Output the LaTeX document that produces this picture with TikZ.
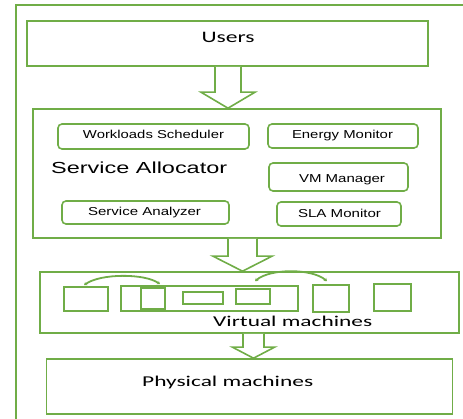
\documentclass[tikz,border=0pt]{standalone}
\usepackage{fontspec}
\usepackage{graphicx}
\usetikzlibrary{calc,arrows.meta}
\newfontfamily\calfont{Carlito}
\newfontfamily\arifont{Liberation Sans}
\definecolor{gr}{HTML}{70AD47}
\newcommand\fitw[2]{\resizebox{#1}{\height}{#2}}
\tikzset{
  box/.style={draw=gr, line width=1.6pt, inner sep=0pt, rectangle},
  rbox/.style={box, rounded corners=4pt},
  vmbox/.style={draw=gr, line width=1.5pt, inner sep=0pt, rectangle},
  txt/.style={inner sep=0pt, text=black},
  blk/.style={draw=gr, line width=1.6pt, fill=white, line join=miter},
  swap/.style={draw=gr, line width=1.8pt, {Stealth[length=3pt,width=4pt]}-{Stealth[length=3pt,width=4pt]}},
}
\newcommand\blockarr[5]{%
  \draw[blk] ($(#1)+(-#3,0)$) -- ($(#2)+(-#3,-#5)$) -- ($(#2)+(-#4,-#5)$) -- (#2)
    -- ($(#2)+(#4,-#5)$) -- ($(#2)+(#3,-#5)$) -- ($(#1)+(#3,0)$);}
\begin{document}
\begin{tikzpicture}[x=1pt,y=-1pt]
\useasboundingbox (0,0) rectangle (463,419);
% outer frame
\draw[draw=gr, line width=1.8pt] (16,419) -- (16,5) -- (463,5);
% main boxes
\node[box, minimum width=401, minimum height=45] (users) at (227.5,43.5) {};
\node[box, minimum width=408, minimum height=129] (alloc) at (237,173.5) {};
\node[box, minimum width=419, minimum height=61] (vm) at (249.5,302.5) {};
\node[box, minimum width=406, minimum height=55] (pm) at (249.5,386.5) {};
% inner boxes
\node[rbox, minimum width=191, minimum height=25] (ws) at (153.5,136.5) {};
\node[rbox, minimum width=150, minimum height=24] (em) at (343,136) {};
\node[rbox, minimum width=139, minimum height=28] (vmm) at (338.5,177) {};
\node[rbox, minimum width=167, minimum height=23] (sa) at (145.5,212.5) {};
\node[rbox, minimum width=124, minimum height=24] (sla) at (339,214) {};
% virtual machine boxes
\node[vmbox, minimum width=44, minimum height=24] (ba) at (86,299) {};
\node[vmbox, minimum width=177, minimum height=25] (bb) at (209.5,298.5) {};
\node[vmbox, minimum width=24, minimum height=21] (bc) at (153,298.5) {};
\node[vmbox, minimum width=40, minimum height=12] (bd) at (203,298) {};
\node[vmbox, minimum width=34, minimum height=15] (be) at (253,296.5) {};
\node[vmbox, minimum width=36, minimum height=27] (bf) at (331,298.5) {};
\node[vmbox, minimum width=37, minimum height=27] (bg) at (392.5,297.5) {};
% texts
\node[txt, anchor=base] (tusers) at (228,43) {\calfont\fontsize{16}{16}\selectfont\fitw{53pt}{Users}};
\node[txt, anchor=base west] (tpm) at (142,386) {\calfont\fontsize{15}{15}\selectfont\fitw{171pt}{Physical machines}};
\node[txt, anchor=base west] (tvm) at (213,327) {\calfont\fontsize{15}{15}\selectfont\fitw{159pt}{Virtual machines}};
\node[txt, anchor=base west] (talloc) at (51,174) {\arifont\fontsize{16}{16}\selectfont\fitw{176pt}{Service Allocator}};
\node[txt, anchor=base] (tws) at (153.5,139) {\arifont\fontsize{11.5}{12}\selectfont\fitw{141pt}{Workloads Scheduler}};
\node[txt, anchor=base] (tem) at (342.5,139) {\arifont\fontsize{11.5}{12}\selectfont\fitw{101pt}{Energy Monitor}};
\node[txt, anchor=base] (tvmm) at (342,183) {\arifont\fontsize{11.5}{12}\selectfont\fitw{86pt}{VM Manager}};
\node[txt, anchor=base] (tsa) at (144.5,216) {\arifont\fontsize{11.5}{12}\selectfont\fitw{113pt}{Service Analyzer}};
\node[txt, anchor=base] (tsla) at (339.5,218) {\arifont\fontsize{11.5}{12}\selectfont\fitw{83pt}{SLA Monitor}};
% block arrows
\coordinate (a1s) at ($(users.south)+(0.5,0)$);
\coordinate (a1e) at (alloc.north -| a1s);
\blockarr{a1s}{a1e}{13}{27}{16}
\coordinate (a2s) at ($(alloc.south)+(5.5,0)$);
\coordinate (a2e) at (vm.north -| a2s);
\blockarr{a2s}{a2e}{14.5}{29.5}{15}
\coordinate (a3s) at ($(vm.south)+(4,0)$);
\coordinate (a3e) at (pm.north -| a3s);
\blockarr{a3s}{a3e}{10.5}{21}{11}
% migration arcs
\draw[swap] ($(ba.north)+(-2,-1)$) .. controls ($(ba.north)+(14,-13)$) and ($(bc.north)+(-8,-14)$) .. ($(bc.north)+(7,-3)$);
\draw[swap] ($(be.north)+(2,-7)$) .. controls ($(be.north)+(17,-20)$) and ($(bf.north)+(-19,-16)$) .. ($(bf.north)+(-4,-3)$);
\end{tikzpicture}
\end{document}
